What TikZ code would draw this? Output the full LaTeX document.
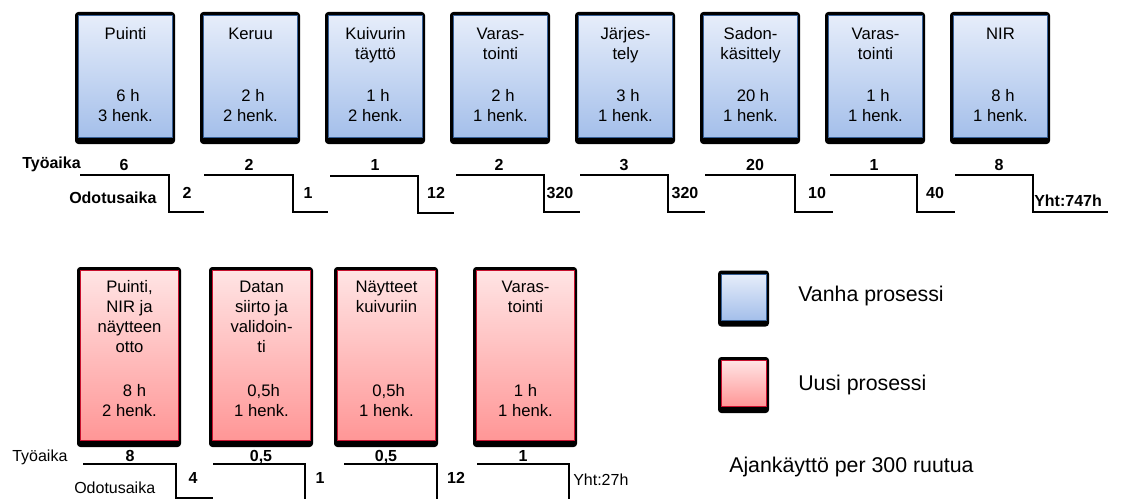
\documentclass[tikz,border=0pt]{standalone}
\usepackage{fontspec}
\setmainfont{Liberation Sans}
\definecolor{oldtop}{RGB}{230,237,250}
\definecolor{oldbot}{RGB}{164,191,234}
\definecolor{oldborder}{RGB}{54,95,150}
\definecolor{newtop}{RGB}{255,228,228}
\definecolor{newbot}{RGB}{255,150,150}
\definecolor{newborder}{RGB}{200,16,46}
\newcommand\procbox[6]{%
  \fill[shadowbox] (#2-3,#3-3) rectangle (#2+#4+3,#3+#5+7);
  \node[#6, minimum width={0.75pt*#4}, minimum height={0.75pt*#5}, anchor=north west] (#1) at (#2,#3) {};}
\begin{document}
\begin{tikzpicture}[x=0.75pt,y=-0.75pt,
  oldbox/.style={draw=oldborder, line width=0.8pt, top color=oldtop, bottom color=oldbot, inner sep=0pt},
  newbox/.style={draw=newborder, line width=0.8pt, top color=newtop, bottom color=newbot, inner sep=0pt},
  shadowbox/.style={fill=black, rounded corners=2.5pt},
  btxt/.style={font=\fontsize{12.5}{15}\selectfont, align=center, inner sep=0pt},
  lbl/.style={font=\bfseries\fontsize{12}{14}\selectfont, inner sep=0pt, anchor=base},
  lblr/.style={font=\fontsize{12}{14}\selectfont, inner sep=0pt, anchor=base},
  leg/.style={font=\fontsize{16}{19}\selectfont, inner sep=0pt, anchor=base west},
  stepline/.style={line width=1.5pt}]
\useasboundingbox (0,0) rectangle (1126,499);
% ---- old process boxes
\procbox{o1}{78}{15}{94}{122}{oldbox}
\procbox{o2}{203}{15}{94}{122}{oldbox}
\procbox{o3}{328}{15}{94}{122}{oldbox}
\procbox{o4}{453}{15}{94}{122}{oldbox}
\procbox{o5}{578}{15}{94}{122}{oldbox}
\procbox{o6}{703}{15}{94}{122}{oldbox}
\procbox{o7}{828}{15}{94}{122}{oldbox}
\procbox{o8}{953}{15}{94}{122}{oldbox}
\node[btxt, anchor=north] (o1t) at (o1.north |- 0,25) {\strut Puinti};
\node[btxt, anchor=north] (o2t) at (o2.north |- 0,25) {\strut Keruu};
\node[btxt, anchor=north] (o3t) at (o3.north |- 0,25) {\strut Kuivurin\\täyttö};
\node[btxt, anchor=north] (o4t) at (o4.north |- 0,25) {\strut Varas-\\tointi};
\node[btxt, anchor=north] (o5t) at (o5.north |- 0,25) {\strut Järjes-\\tely};
\node[btxt, anchor=north] (o6t) at (o6.north |- 0,25) {\strut Sadon-\\käsittely};
\node[btxt, anchor=north] (o7t) at (o7.north |- 0,25) {\strut Varas-\\tointi};
\node[btxt, anchor=north] (o8t) at (o8.north |- 0,25) {\strut NIR};
\node[btxt, anchor=south] (o1n) at (o1.north |- 0,127.5) {\hspace*{.3em}6 h\\3 henk.\strut};
\node[btxt, anchor=south] (o2n) at (o2.north |- 0,127.5) {\hspace*{.3em}2 h\\2 henk.\strut};
\node[btxt, anchor=south] (o3n) at (o3.north |- 0,127.5) {\hspace*{.3em}1 h\\2 henk.\strut};
\node[btxt, anchor=south] (o4n) at (o4.north |- 0,127.5) {\hspace*{.3em}2 h\\1 henk.\strut};
\node[btxt, anchor=south] (o5n) at (o5.north |- 0,127.5) {\hspace*{.3em}3 h\\1 henk.\strut};
\node[btxt, anchor=south] (o6n) at (o6.north |- 0,127.5) {\hspace*{.3em}20 h\\1 henk.\strut};
\node[btxt, anchor=south] (o7n) at (o7.north |- 0,127.5) {\hspace*{.3em}1 h\\1 henk.\strut};
\node[btxt, anchor=south] (o8n) at (o8.north |- 0,127.5) {\hspace*{.3em}8 h\\1 henk.\strut};
% ---- old process time steps
\draw[stepline] (80,175) -| (169,212) -- (204,212);
\draw[stepline] (204,175) -| (293,212) -- (328,212);
\draw[stepline] (330,176) -| (418,213) -- (454,213);
\draw[stepline] (456,175) -| (544,212) -- (580,212);
\draw[stepline] (580,175) -| (668,212) -- (705,212);
\draw[stepline] (705,175) -| (795,212) -- (833,212);
\draw[stepline] (830,175) -| (917,212) -- (955,212);
\draw[stepline] (955,175) -| (1033,212) -- (1108,212);
\node[lbl, anchor=base west] (tyo1) at (22,168) {Työaika};
\node[lbl, anchor=base west] (odo1) at (69,203) {Odotusaika};
\node[lbl] (w1) at (124,170) {6};
\node[lbl] (w2) at (249,170) {2};
\node[lbl] (w3) at (375,170) {1};
\node[lbl] (w4) at (499,170) {2};
\node[lbl] (w5) at (624,170) {3};
\node[lbl] (w6) at (755,170) {20};
\node[lbl] (w7) at (874,170) {1};
\node[lbl] (w8) at (999,170) {8};
\node[lbl] (d1) at (187,198) {2};
\node[lbl] (d2) at (308,198) {1};
\node[lbl] (d3) at (436,198) {12};
\node[lbl] (d4) at (560,198) {320};
\node[lbl] (d5) at (685,198) {320};
\node[lbl] (d6) at (817,198) {10};
\node[lbl] (d7) at (935,198) {40};
\node[lbl, anchor=base west] (tot1) at (1034,206) {Yht:747h};
% ---- new process boxes
\procbox{n1}{80}{270}{98}{170}{newbox}
\procbox{n2}{212}{270}{98}{170}{newbox}
\procbox{n3}{337}{270}{98}{170}{newbox}
\procbox{n4}{476}{270}{98}{170}{newbox}
\node[btxt, anchor=north] (n1t) at (n1.north |- 0,278.5) {\strut Puinti,\\NIR ja\\näytteen\\otto};
\node[btxt, anchor=north] (n2t) at (n2.north |- 0,278.5) {\strut Datan\\siirto ja\\validoin-\\ti};
\node[btxt, anchor=north] (n3t) at (n3.north |- 0,278.5) {\strut Näytteet\\kuivuriin};
\node[btxt, anchor=north] (n4t) at (n4.north |- 0,278.5) {\strut Varas-\\tointi};
\node[btxt, anchor=south] (n1n) at (n1.north |- 0,422.7) {\hspace*{.6em}8 h\\2 henk.\strut};
\node[btxt, anchor=south] (n2n) at (n2.north |- 0,422.7) {\hspace*{.25em}0,5h\\1 henk.\strut};
\node[btxt, anchor=south] (n3n) at (n3.north |- 0,422.7) {\hspace*{.25em}0,5h\\1 henk.\strut};
\node[btxt, anchor=south] (n4n) at (n4.north |- 0,422.7) {1 h\\1 henk.\strut};
% ---- new process time steps
\draw[stepline] (83,464) -| (176,497.5) -- (213,497.5);
\draw[stepline] (213,464) -| (305,499);
\draw[stepline] (344,464) -| (437,499);
\draw[stepline] (477,464) -| (569,499);
\node[lblr, anchor=base west] (tyo2) at (12,461) {Työaika};
\node[lblr, anchor=base west] (odo2) at (74,493) {Odotusaika};
\node[lbl] (v1) at (130,461.5) {8};
\node[lbl] (v2) at (261,461.5) {0,5};
\node[lbl] (v3) at (386,461.5) {0,5};
\node[lbl] (v4) at (523,461.5) {1};
\node[lbl] (e1) at (193,483) {4};
\node[lbl] (e2) at (320,483) {1};
\node[lbl] (e3) at (456,483) {12};
\node[lblr, anchor=base west] (tot2) at (573,485) {Yht:27h};
% ---- legend
\procbox{lo}{721}{273.5}{45}{46}{oldbox}
\procbox{ln}{721}{360}{45}{46}{newbox}
\node[leg] (lot) at (798,301) {Vanha prosessi};
\node[leg] (lnt) at (798,390) {Uusi prosessi};
\node[leg] (note) at (729,472) {Ajankäyttö per 300 ruutua};
\end{tikzpicture}
\end{document}
